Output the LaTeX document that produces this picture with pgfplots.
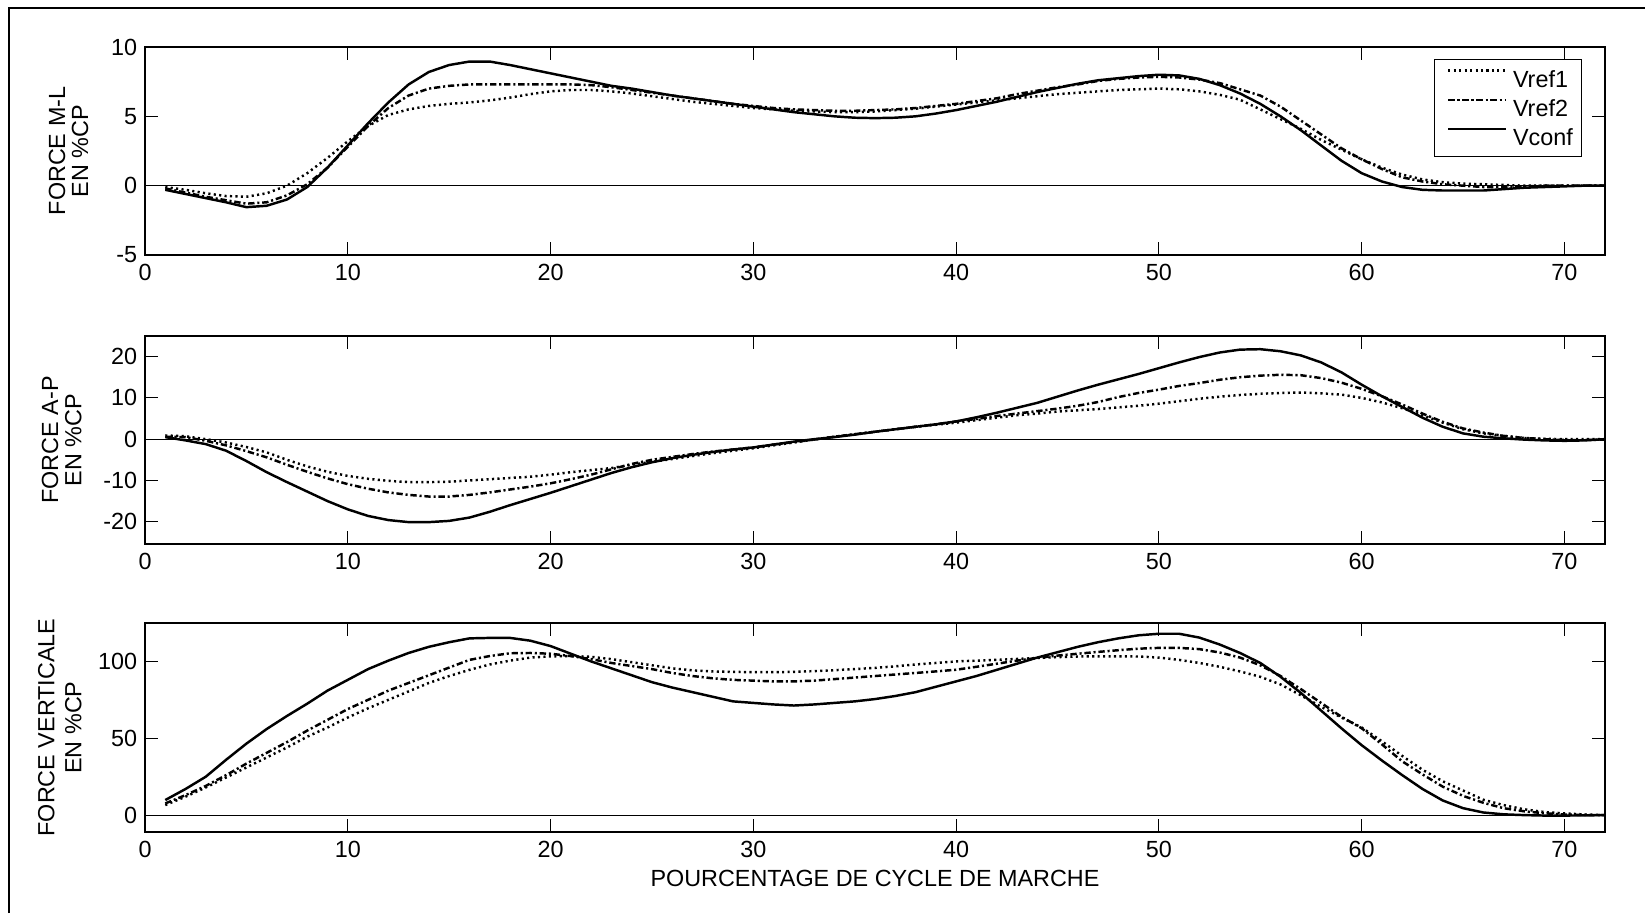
\documentclass[border=0pt]{standalone}
\usepackage{fontspec}
\setmainfont{Liberation Sans}
\usepackage{pgfplots}
\pgfplotsset{compat=1.18}
\usepackage{pgfplotstable}

% columns: x, Vref1 (dotted), Vref2 (dash-dot), Vconf (solid)
\pgfplotstableread{
x v1 v2 vc
1 -0.1 -0.2 -0.3
2 -0.3 -0.5 -0.6
3 -0.55 -0.8 -0.9
4 -0.75 -1.05 -1.2
5 -0.8 -1.3 -1.55
6 -0.55 -1.2 -1.45
7 0.0 -0.7 -1.0
8 0.9 0.1 -0.1
9 2.0 1.3 1.3
10 3.2 2.8 2.9
11 4.3 4.3 4.5
12 5.1 5.6 6.0
13 5.5 6.5 7.3
14 5.75 7.0 8.2
15 5.9 7.2 8.7
16 6.0 7.3 8.95
17 6.15 7.3 8.95
18 6.35 7.3 8.7
19 6.6 7.3 8.4
20 6.8 7.3 8.1
21 6.9 7.3 7.8
22 6.9 7.25 7.5
23 6.8 7.1 7.2
24 6.65 6.9 7.0
25 6.45 6.7 6.75
26 6.25 6.5 6.5
27 6.05 6.3 6.3
28 5.9 6.1 6.1
29 5.75 5.9 5.9
30 5.6 5.75 5.7
31 5.5 5.6 5.5
32 5.4 5.5 5.3
33 5.35 5.45 5.15
34 5.3 5.4 5.0
35 5.3 5.4 4.9
36 5.35 5.45 4.87
37 5.45 5.5 4.9
38 5.55 5.6 5.0
39 5.7 5.75 5.2
40 5.85 5.9 5.45
41 6.0 6.1 5.75
42 6.15 6.3 6.05
43 6.3 6.6 6.4
44 6.45 6.85 6.75
45 6.6 7.1 7.05
46 6.7 7.3 7.35
47 6.8 7.55 7.6
48 6.9 7.7 7.75
49 6.95 7.8 7.9
50 7.0 7.85 8.0
51 6.95 7.8 7.95
52 6.8 7.65 7.7
53 6.55 7.4 7.25
54 6.2 6.95 6.65
55 5.5 6.5 5.9
56 4.8 5.7 5.0
57 4.1 4.7 4.0
58 3.3 3.7 2.9
59 2.6 2.7 1.8
60 1.9 1.9 0.9
61 1.3 1.2 0.3
62 0.8 0.6 -0.1
63 0.45 0.3 -0.3
64 0.25 0.1 -0.35
65 0.15 0.0 -0.35
66 0.1 -0.1 -0.35
67 0.05 -0.1 -0.25
68 0.0 -0.05 -0.15
69 0.0 0.0 -0.1
70 0.0 0.0 -0.05
71 0.0 0.0 0.0
72 0.0 0.0 0.0
}\tabML

\pgfplotstableread{
x v1 v2 vc
1 0.9 0.6 0.5
2 0.7 0.5 -0.3
3 0.0 -0.4 -1.2
4 -0.8 -1.5 -2.8
5 -1.9 -2.9 -5.3
6 -3.2 -4.4 -8.0
7 -5.0 -6.2 -10.4
8 -6.6 -7.9 -12.7
9 -7.9 -9.5 -15.0
10 -8.9 -10.9 -17.0
11 -9.6 -12.0 -18.6
12 -10.1 -12.9 -19.6
13 -10.4 -13.5 -20.1
14 -10.4 -13.9 -20.1
15 -10.3 -13.9 -19.8
16 -10.0 -13.5 -19.0
17 -9.7 -12.9 -17.6
18 -9.4 -12.2 -16.0
19 -9.1 -11.5 -14.5
20 -8.6 -10.7 -13.0
21 -8.0 -9.7 -11.4
22 -7.5 -8.6 -9.8
23 -7.0 -7.3 -8.2
24 -6.2 -6.0 -6.8
25 -5.5 -5.0 -5.6
26 -4.8 -4.3 -4.6
27 -4.1 -3.6 -3.8
28 -3.4 -3.0 -3.1
29 -2.8 -2.5 -2.5
30 -2.2 -2.0 -2.0
31 -1.5 -1.3 -1.3
32 -0.8 -0.7 -0.6
33 -0.1 -0.1 0.0
34 0.6 0.6 0.5
35 1.2 1.2 1.1
36 1.8 1.8 1.8
37 2.4 2.4 2.4
38 3.0 3.0 3.0
39 3.5 3.6 3.6
40 4.0 4.3 4.3
41 4.6 4.9 5.3
42 5.2 5.6 6.4
43 5.8 6.2 7.6
44 6.2 6.8 8.8
45 6.7 7.4 10.3
46 7.0 8.1 11.8
47 7.3 9.0 13.2
48 7.7 10.2 14.5
49 8.1 11.2 15.8
50 8.6 12.0 17.2
51 9.2 12.9 18.6
52 9.8 13.6 19.9
53 10.3 14.4 21.0
54 10.7 15.0 21.7
55 11.0 15.4 21.8
56 11.2 15.6 21.3
57 11.3 15.5 20.3
58 11.1 14.8 18.6
59 10.8 13.7 16.2
60 10.0 12.2 13.2
61 8.9 10.4 10.4
62 7.5 8.4 7.8
63 5.8 6.2 5.2
64 4.0 4.2 3.0
65 2.4 2.6 1.4
66 1.4 1.6 0.6
67 0.8 0.8 0.2
68 0.3 0.3 -0.1
69 0.1 0.0 -0.3
70 0.0 -0.2 -0.4
71 0.0 -0.2 -0.3
72 0.0 -0.1 0.0
}\tabAP

\pgfplotstableread{
x v1 v2 vc
1 6.5 7.6 9.8
2 12 13 17
3 18 19 25
4 24.5 26 36
5 31 33.5 46.5
6 37.5 40.5 56
7 44 47.5 64.5
8 51 55 72.5
9 57 62 81
10 63.5 69 88
11 69.5 75 95
12 75 81 100.5
13 80.5 86 105.5
14 86 91 109.5
15 90.5 96 112.5
16 94.5 101 115
17 98 103.5 115.3
18 100.5 105.3 115.3
19 102.5 105.5 113.5
20 103.3 105 110
21 103.5 103.5 105
22 103 101.5 100
23 101.5 99 95.5
24 99.5 97 91
25 97.5 95 86.5
26 95.5 92.5 83
27 94.2 90.5 80
28 93.5 89 77
29 93.2 88 74
30 93 87.5 73
31 93 87 72
32 93.2 87 71.3
33 93.7 87.5 72
34 94.3 88.5 73
35 95 89.5 74
36 95.8 90.5 75.5
37 96.8 91.5 77.5
38 98 92.5 80
39 99 93.5 83.5
40 100 94.6 87
41 100.5 96.5 90.5
42 101 98.5 94.5
43 101.6 100.5 98.5
44 102.2 102.3 102.5
45 102.8 103.8 106
46 103.2 105 109.5
47 103.3 106.2 112.5
48 103.3 107.3 115
49 103.2 108.3 117
50 102.5 108.8 118
51 101 108.8 118
52 99 108 115.5
53 96.5 105.8 111
54 93.5 102.5 105.5
55 90 97.5 99
56 85 90.5 90
57 78 82 79.5
58 70.5 73 68
59 63.5 64 56.5
60 57 56.5 45.5
61 48 46 35.5
62 38.5 35 26
63 29.5 26.5 17
64 22 18.5 9.5
65 16 12.5 4.5
66 10 8 1.7
67 6.5 4.5 0.5
68 3.8 2.5 0
69 2 1.2 -0.3
70 1.1 0.4 -0.3
71 0.4 0.1 -0.2
72 0 0 0
}\tabV

\pgfplotsset{
  myaxis/.style={
    scale only axis, width=29.2cm, height=4.16cm,
    xmin=0, xmax=72,
    xtick={0,10,20,30,40,50,60,70},
    xticklabels={0,10,20,30,40,50,60,70},
    tick align=inside, major tick length=0.26cm,
    every tick/.style={black, line width=0.5pt},
    axis line style={line width=0.8pt},
    font=\fontsize{13.3}{15.7}\selectfont,
    xticklabel style={inner sep=0pt, anchor=north, yshift=-0.18cm},
    yticklabel style={inner sep=0pt, anchor=east, xshift=-0.15cm},
    clip=true,
  },
  sref1/.style={black, line width=1.4pt, dash pattern=on 1.2pt off 1.9pt},
  sref2/.style={black, line width=1.4pt, dash pattern=on 3.6pt off 1.6pt on 1.2pt off 1.6pt},
  sconf/.style={black, line width=1.4pt},
}

\begin{document}
\begin{tikzpicture}
\useasboundingbox (0,0) rectangle (32.9cm,18.26cm);
\draw[line width=1.1pt] (0.18cm,0) -- (0.18cm,18.1cm) -- (32.9cm,18.1cm);

% top axis
\begin{axis}[myaxis, at={(2.9cm,13.16cm)}, anchor=south west,
  ymin=-5, ymax=10, ytick={-5,0,5,10}, yticklabels={-5,0,5,10},
  ylabel={FORCE M-L\\EN \%CP},
  ylabel style={align=center, inner sep=0pt, font=\fontsize{13.3}{13.2}\selectfont,
    at={(axis description cs:-0.0385,0.5)}, anchor=south},
  legend style={at={(axis description cs:0.984,0.942)}, anchor=north east,
    draw=black, fill=white,
    font=\fontsize{13.3}{15.7}\selectfont,
    inner xsep=0.17cm, inner ysep=0.2cm, row sep=0.22cm,
    nodes={inner sep=0pt, text depth=0pt}},
  legend cell align=left,
  legend image code/.code={\path (-0.08cm,0); \draw[#1] (0cm,0.17cm) -- (1.15cm,0.17cm); \path (1.27cm,0);},
]
\addplot[black, line width=0.5pt, forget plot] coordinates {(0,0) (72,0)};
\addplot[sref1] table[x=x, y=v1] {\tabML};
\addplot[sref2] table[x=x, y=v2] {\tabML};
\addplot[sconf] table[x=x, y=vc] {\tabML};
\legend{Vref1, Vref2, Vconf}
\end{axis}

% middle axis
\begin{axis}[myaxis, at={(2.9cm,7.38cm)}, anchor=south west,
  ymin=-25.4, ymax=25, ytick={-20,-10,0,10,20}, yticklabels={-20,-10,0,10,20},
  ylabel={FORCE A-P\\EN \%CP},
  ylabel style={align=center, inner sep=0pt, font=\fontsize{13.3}{13.2}\selectfont,
    at={(axis description cs:-0.0432,0.5)}, anchor=south},
]
\addplot[black, line width=0.5pt, forget plot] coordinates {(0,0) (72,0)};
\addplot[sref1] table[x=x, y=v1] {\tabAP};
\addplot[sref2] table[x=x, y=v2] {\tabAP};
\addplot[sconf] table[x=x, y=vc] {\tabAP};
\end{axis}

% bottom axis
\begin{axis}[myaxis, at={(2.9cm,1.62cm)}, anchor=south west, height=4.18cm,
  ymin=-11, ymax=125, ytick={0,50,100}, yticklabels={0,50,100},
  ylabel={FORCE VERTICALE\\EN \%CP},
  ylabel style={align=center, inner sep=0pt, font=\fontsize{13.3}{15.3}\selectfont,
    at={(axis description cs:-0.0432,0.5)}, anchor=south},
  xlabel={POURCENTAGE DE CYCLE DE MARCHE},
  xlabel style={at={(axis description cs:0.5,0)}, anchor=north, inner sep=0pt, yshift=-0.75cm},
]
\addplot[black, line width=0.5pt, forget plot] coordinates {(0,0) (72,0)};
\addplot[sref1] table[x=x, y=v1] {\tabV};
\addplot[sref2] table[x=x, y=v2] {\tabV};
\addplot[sconf] table[x=x, y=vc] {\tabV};
\end{axis}
\end{tikzpicture}
\end{document}
